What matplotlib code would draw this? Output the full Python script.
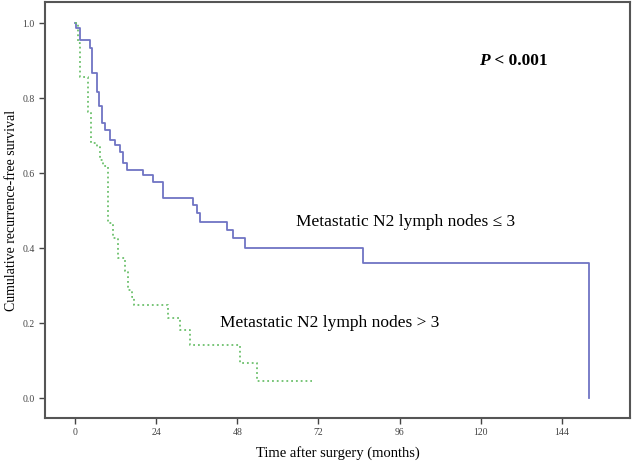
import matplotlib.pyplot as plt

plt.rcParams['font.family'] = ['Liberation Serif', 'DejaVu Serif']

# Kaplan-Meier steps (months, survival)
low_t = [0, 0.3, 1.5, 4.4, 5.0, 6.5, 7.2, 7.9, 8.9, 10.4, 11.8, 13.3, 14.2, 15.4,
         20.1, 23.1, 26.0, 34.9, 36.1, 37.0, 45.0, 46.7, 50.3, 85.2, 152.0]
low_s = [1.0, 0.987, 0.955, 0.933, 0.867, 0.816, 0.78, 0.733, 0.715, 0.688, 0.675,
         0.656, 0.627, 0.608, 0.595, 0.576, 0.533, 0.515, 0.493, 0.469, 0.448,
         0.427, 0.40, 0.36, 0.0]

high_t = [0, 0.9, 1.5, 3.8, 4.7, 6.5, 7.4, 8.3, 9.8, 11.2, 12.7, 14.8, 15.7, 16.9,
          17.5, 27.6, 31.1, 34.0, 48.8, 53.8, 70.0]
high_s = [1.0, 0.946, 0.857, 0.763, 0.68, 0.67, 0.635, 0.62, 0.467, 0.427, 0.373,
          0.34, 0.288, 0.27, 0.248, 0.213, 0.181, 0.141, 0.093, 0.045, 0.045]

xticks = [0, 24, 48, 72, 96, 120, 144]
yticks = [0.0, 0.2, 0.4, 0.6, 0.8, 1.0]

fig = plt.figure(figsize=(6.34, 4.66), dpi=100)
ax = fig.add_axes([0.071, 0.103, 0.9227, 0.8927])

ax.step(low_t, low_s, where='post', color='#7074c4', lw=1.3)
ax.step(high_t, high_s, where='post', color='#6cc06c', lw=1.3, linestyle=':')

ax.set_xlim(-8.9, 164.2)
ax.set_ylim(-0.053, 1.056)
ax.set_xticks(xticks)
ax.set_xticklabels([str(v) for v in xticks])
ax.set_yticks(yticks)
ax.set_yticklabels([f'{v:.1f}' for v in yticks])
ax.tick_params(direction='out', length=4, width=1, labelsize=7, colors='#444444')

for s in ax.spines.values():
    s.set_color('#555555')
    s.set_linewidth(1.5)

ax.set_xlabel('Time after surgery (months)', fontsize=10.5, labelpad=6)
ax.set_ylabel('Cumulative recurrence-free survival', fontsize=10, labelpad=3)

ax.text(65.5, 0.47, 'Metastatic N2 lymph nodes \u2264 3', fontsize=12.5, va='center')
ax.text(43, 0.20, 'Metastatic N2 lymph nodes > 3', fontsize=12.5, va='center')

p = ax.text(119.5, 0.90, 'P', fontsize=12.5, fontweight='bold', style='italic', va='center')
ax.annotate(' < 0.001', xy=(1, 0.5), xycoords=p, fontsize=12.5, fontweight='bold',
            va='center', ha='left')

fig.savefig('out.png', dpi=100)
plt.close(fig)
